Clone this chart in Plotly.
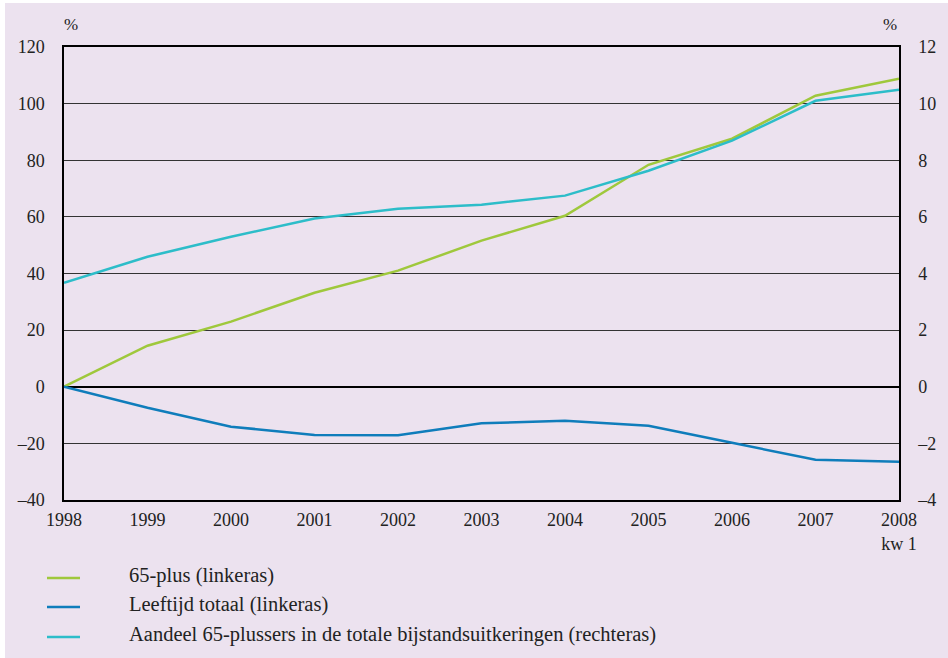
import plotly.graph_objects as go

years = [1998, 1999, 2000, 2001, 2002, 2003, 2004, 2005, 2006, 2007, 2008]
year_labels = ["1998", "1999", "2000", "2001", "2002", "2003", "2004", "2005", "2006", "2007", "2008<br>kw 1"]
plus65 = [0, 14.5, 23.0, 33.2, 41.0, 51.6, 60.4, 78.4, 87.6, 102.8, 108.8]
leeftijd_totaal = [0, -7.4, -14.1, -17.0, -17.1, -12.9, -12.0, -13.8, -19.8, -25.8, -26.5]
aandeel = [3.67, 4.59, 5.30, 5.94, 6.29, 6.43, 6.75, 7.63, 8.69, 10.10, 10.49]

left_ticks = [-40, -20, 0, 20, 40, 60, 80, 100, 120]
left_labels = ["–40", "–20", "0", "20", "40", "60", "80", "100", "120"]
right_ticks = [-4, -2, 0, 2, 4, 6, 8, 10, 12]
right_labels = ["–4", "–2", "0", "2", "4", "6", "8", "10", "12"]

names = ["65-plus (linkeras)", "Leeftijd totaal (linkeras)",
         "Aandeel 65-plussers in de totale bijstandsuitkeringen (rechteras)"]
colors = ["#9fc83c", "#0f7dbb", "#2dbdc9"]

font_family = "'Liberation Serif', 'Times New Roman', serif"
FS = 18
LEG_FS = 20.5

fig = go.Figure()
fig.add_trace(go.Scatter(x=years, y=plus65, mode="lines", name=names[0],
                         line=dict(color=colors[0], width=2.5)))
fig.add_trace(go.Scatter(x=years, y=leeftijd_totaal, mode="lines", name=names[1],
                         line=dict(color=colors[1], width=2.5)))
fig.add_trace(go.Scatter(x=years, y=aandeel, mode="lines", name=names[2],
                         line=dict(color=colors[2], width=2.5), yaxis="y2"))

L, R, T, B = 64, 49, 47, 158
W, H = 948, 658
pw, ph = W - L - R, H - T - B

def px_x(p):
    return (p - L) / pw

def px_y(p):
    return (H - B - p) / ph

shapes = [dict(type="rect", xref="paper", yref="paper",
               x0=px_x(5), x1=px_x(960), y0=px_y(670), y1=px_y(3),
               fillcolor="#ece2ef", line=dict(width=0), layer="below")]
annotations = [
    dict(text="%", xref="paper", yref="paper", x=px_x(71), y=px_y(25),
         xanchor="center", yanchor="middle", showarrow=False, font=dict(size=FS - 1)),
    dict(text="%", xref="paper", yref="paper", x=px_x(890), y=px_y(25),
         xanchor="center", yanchor="middle", showarrow=False, font=dict(size=FS - 1)),
]
leg_rows = [575, 604, 634]
for name, col, yy in zip(names, colors, leg_rows):
    shapes.append(dict(type="line", xref="paper", yref="paper",
                       x0=px_x(47), x1=px_x(80), y0=px_y(yy + 3), y1=px_y(yy + 3),
                       line=dict(color=col, width=2.5)))
    annotations.append(dict(text=name, xref="paper", yref="paper",
                            x=px_x(127), y=px_y(yy), xanchor="left", yanchor="middle",
                            showarrow=False, font=dict(size=LEG_FS)))

fig.update_layout(
    width=W, height=H,
    margin=dict(l=L, r=R, t=T, b=B),
    paper_bgcolor="white",
    plot_bgcolor="white",
    font=dict(family=font_family, size=FS, color="#222"),
    showlegend=False,
    xaxis=dict(range=[1998, 2008], tickvals=years, ticktext=year_labels,
               showgrid=False, zeroline=False, showline=True, linecolor="black",
               linewidth=1.5, mirror=True, ticks="", ticklabelstandoff=3),
    yaxis=dict(range=[-40, 120], tickvals=left_ticks, ticktext=left_labels,
               showgrid=True, gridcolor="#333", gridwidth=1, zeroline=True,
               zerolinecolor="black", zerolinewidth=1.5, showline=True,
               linecolor="black", linewidth=1.5, ticks="", ticklabelstandoff=14),
    yaxis2=dict(range=[-4, 12], tickvals=right_ticks, ticktext=right_labels,
                overlaying="y", side="right", showgrid=False, zeroline=False,
                showline=True, linecolor="black", linewidth=1.5, ticks="",
                ticklabelstandoff=14),
    shapes=shapes,
    annotations=annotations,
)

fig.write_html("out.html", config={"displayModeBar": False},
               post_script="document.body.style.margin='0';document.body.style.padding='0';")
